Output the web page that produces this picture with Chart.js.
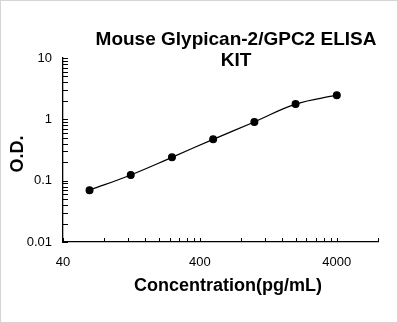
<!DOCTYPE html>
<html>
<head>
<meta charset="utf-8">
<script src="https://cdn.jsdelivr.net/npm/chart.js@4/dist/chart.umd.min.js"></script>
<style>
html,body{margin:0;padding:0;background:#fff;}
#wrap{width:398px;height:323px;position:relative;}
</style>
</head>
<body>
<div id="wrap"><canvas id="c" width="398" height="323"></canvas></div>
<script>
const titleLines = ["Mouse Glypican-2/GPC2 ELISA", "KIT"];
const xTitle = "Concentration(pg/mL)";
const yTitle = "O.D.";
const concentrations = [62.5, 125, 250, 500, 1000, 2000, 4000];
const odValues = [0.070, 0.124, 0.240, 0.472, 0.906, 1.77, 2.48];
const xTickLabels = [40, 400, 4000];
const yTickLabels = [0.01, 0.1, 1, 10];
const xRange = [40, 8000];
const yRange = [0.01, 10];

function minorValues(min, max) {
  const out = [];
  let step = min;
  let v = min;
  while (v <= max * 1.0001) {
    out.push(v);
    const next = v + step;
    if (Math.abs(next - step * 10) < 1e-9 * step * 10) step = step * 10;
    v = next;
  }
  return out;
}

const minorTicks = {
  id: 'minorTicks',
  afterDraw(chart) {
    const ctx = chart.ctx;
    const xs = chart.scales.x, ys = chart.scales.y;
    const area = chart.chartArea;
    ctx.save();
    ctx.strokeStyle = '#000';
    ctx.lineWidth = 1;
    ctx.beginPath();
    for (const v of minorValues(xRange[0], xRange[1])) {
      const px = Math.round(xs.getPixelForValue(v)) + 0.5;
      ctx.moveTo(px, area.bottom);
      ctx.lineTo(px, area.bottom - 4);
    }
    for (const v of minorValues(yRange[0], yRange[1])) {
      const py = Math.round(ys.getPixelForValue(v)) + 0.5;
      ctx.moveTo(area.left, py);
      ctx.lineTo(area.left + 5, py);
    }
    ctx.stroke();
    ctx.restore();
  }
};

const texts = {
  id: 'texts',
  beforeDraw(chart) {
    const ctx = chart.ctx;
    ctx.save();
    ctx.fillStyle = '#fff';
    ctx.fillRect(0, 0, chart.width, chart.height);
    ctx.strokeStyle = '#d4d4d4';
    ctx.lineWidth = 1;
    ctx.strokeRect(0.5, 0.5, chart.width - 1, chart.height - 1);
    ctx.restore();
  },
  afterDraw(chart) {
    const ctx = chart.ctx;
    ctx.save();
    ctx.fillStyle = '#000';
    ctx.textAlign = 'center';
    ctx.textBaseline = 'alphabetic';
    ctx.font = 'bold 19px "Liberation Sans", Arial, sans-serif';
    ctx.fillText(titleLines[0], 236, 45);
    ctx.fillText(titleLines[1], 236, 66);
    ctx.font = 'bold 18px "Liberation Sans", Arial, sans-serif';
    ctx.fillText(xTitle, 228, 291);
    ctx.translate(23, 154);
    ctx.rotate(-Math.PI / 2);
    ctx.fillText(yTitle, 0, 0);
    ctx.restore();
  }
};

const tickFont = { family: '"Liberation Sans", Arial, sans-serif', size: 13 };

new Chart(document.getElementById('c'), {
  type: 'line',
  data: {
    datasets: [{
      data: concentrations.map((c, i) => ({ x: c, y: odValues[i] })),
      borderColor: '#000',
      backgroundColor: '#000',
      borderWidth: 1.2,
      pointRadius: 3.4,
      pointHoverRadius: 3.4,
      pointBackgroundColor: '#000',
      pointBorderColor: '#000',
      tension: 0.4,
      fill: false
    }]
  },
  options: {
    responsive: false,
    animation: false,
    events: [],
    layout: { padding: { top: 58, right: 20, left: 0, bottom: 0 } },
    plugins: { legend: { display: false }, tooltip: { enabled: false }, title: { display: false } },
    scales: {
      x: {
        type: 'logarithmic',
        min: xRange[0],
        max: xRange[1],
        afterBuildTicks(s) { s.ticks = xTickLabels.map(v => ({ value: v })); },
        afterFit(s) { s.height = 81; },
        grid: { display: false, drawTicks: false },
        border: { display: true, color: '#000', width: 1.3 },
        ticks: {
          color: '#000',
          font: tickFont,
          padding: 13,
          maxRotation: 0,
          autoSkip: false,
          callback: (v) => String(v)
        }
      },
      y: {
        type: 'logarithmic',
        min: yRange[0],
        max: yRange[1],
        afterBuildTicks(s) { s.ticks = yTickLabels.map(v => ({ value: v })); },
        afterFit(s) { s.width = 63; },
        grid: { display: false, drawTicks: false },
        border: { display: true, color: '#000', width: 1.3 },
        ticks: {
          color: '#000',
          font: tickFont,
          padding: 11,
          autoSkip: false,
          callback: (v) => String(v)
        }
      }
    }
  },
  plugins: [texts, minorTicks]
});
</script>
</body>
</html>
